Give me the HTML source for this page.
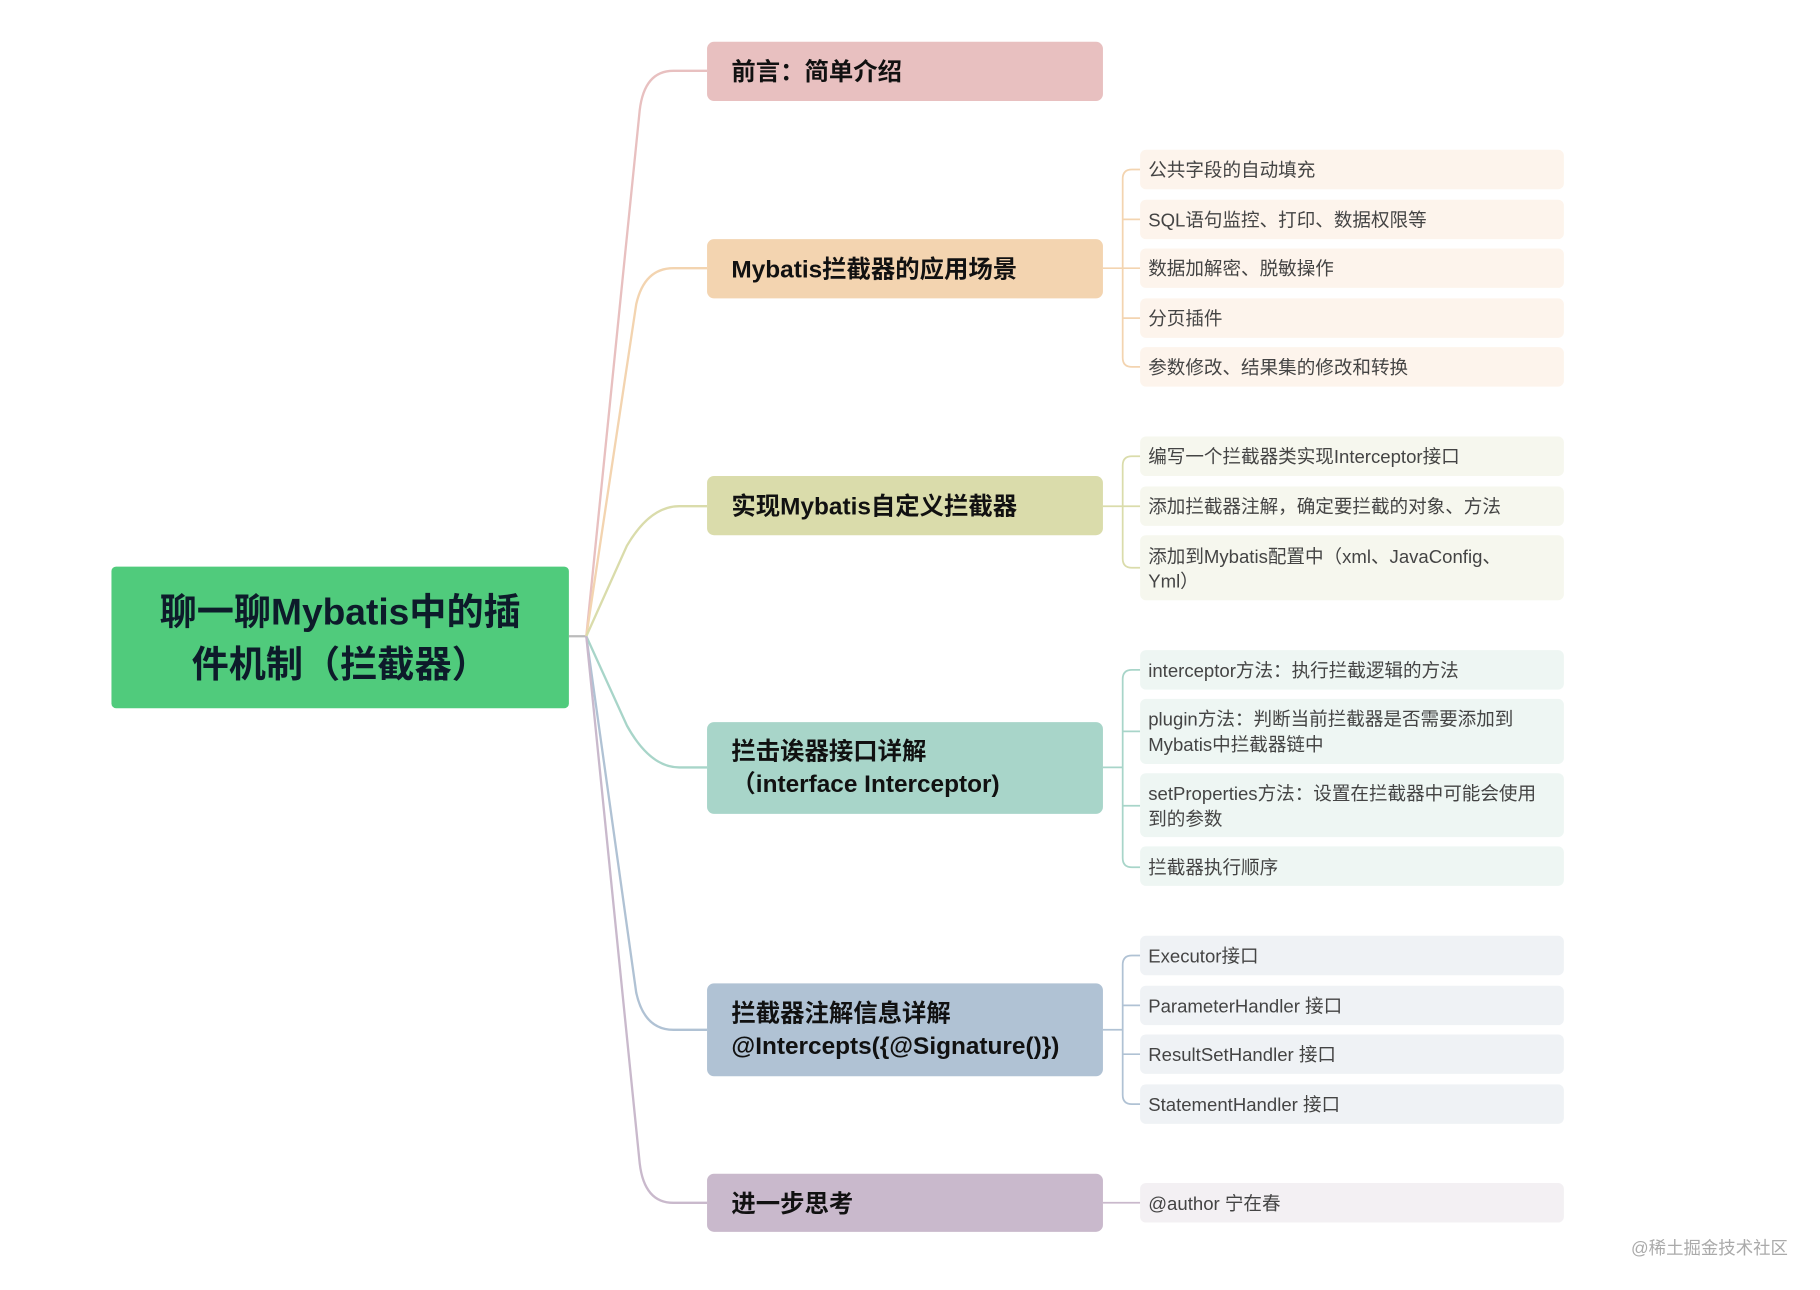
<!DOCTYPE html>
<html><head><meta charset="utf-8"><style>
html,body{margin:0;padding:0;background:#fff;}
svg{display:block;}
text{font-family:"Liberation Sans","Noto Sans CJK SC",sans-serif;}
.b{font-size:21px;font-weight:bold;fill:#111;}
.l{font-size:16px;fill:#444;}
</style></head><body>
<svg width="1820" height="1290" viewBox="0 0 1820 1290">
<g transform="scale(1.161)">
<g fill="none" stroke-width="2">
<path d="M490,548 L505,548" stroke="#bbb"/>
<path d="M505,548 L551,95 Q555,61 580,61 L609,61" stroke="#e8c0c0"/>
<path d="M505,548 L548,262 Q555,231 580,231 L609,231" stroke="#f3d4b0"/>
<path d="M505,548 L540,470 Q560,436 585,436 L609,436" stroke="#dadcab"/>
<path d="M505,548 L540,625 Q560,661 585,661 L609,661" stroke="#a8d5c9"/>
<path d="M505,548 L548,855 Q555,887 580,887 L609,887" stroke="#b0c2d4"/>
<path d="M505,548 L551,1002 Q555,1036 580,1036 L609,1036" stroke="#c9b9cc"/>
</g>
<rect x="96" y="488" width="394" height="122" rx="4" fill="#50cb7c"/>
<text x="293" y="538" text-anchor="middle" style="font-size:32px;font-weight:bold;fill:#0d1b2a">聊一聊Mybatis中的插</text>
<text x="293" y="583" text-anchor="middle" style="font-size:32px;font-weight:bold;fill:#0d1b2a">件机制（拦截器）</text>
<rect x="609" y="36" width="341" height="51" rx="6" fill="#e8c0c0"/>
<text class="b" x="630" y="69">前言：简单介绍</text>
<rect x="609" y="206" width="341" height="51" rx="6" fill="#f3d4b0"/>
<text class="b" x="630" y="239">Mybatis拦截器的应用场景</text>
<rect x="609" y="410" width="341" height="51" rx="6" fill="#dadcab"/>
<text class="b" x="630" y="443">实现Mybatis自定义拦截器</text>
<rect x="609" y="622" width="341" height="79" rx="6" fill="#a8d5c9"/>
<text class="b" x="630" y="654">拦击诶器接口详解</text>
<text class="b" x="630" y="682">（interface Interceptor)</text>
<rect x="609" y="847" width="341" height="80" rx="6" fill="#b0c2d4"/>
<text class="b" x="630" y="880">拦截器注解信息详解</text>
<text class="b" x="630" y="908">@Intercepts({@Signature()})</text>
<rect x="609" y="1011" width="341" height="50" rx="6" fill="#c9b9cc"/>
<text class="b" x="630" y="1044">进一步思考</text>
<g fill="none" stroke-width="1.5">
<g stroke="#f3d4b0">
<path d="M950,231 L967,231"/>
<path d="M982,146 L975,146 Q967,146 967,154 L967,308 Q967,316 975,316 L982,316"/>
<path d="M967,189 L982,189 M967,231 L982,231 M967,274 L982,274"/>
</g>
<g stroke="#dadcab">
<path d="M950,436 L967,436"/>
<path d="M982,393 L975,393 Q967,393 967,401 L967,481 Q967,489 975,489 L982,489"/>
<path d="M967,436 L982,436"/>
</g>
<g stroke="#a8d5c9">
<path d="M950,661 L967,661"/>
<path d="M982,577 L975,577 Q967,577 967,585 L967,739 Q967,747 975,747 L982,747"/>
<path d="M967,630 L982,630 M967,694 L982,694"/>
</g>
<g stroke="#b0c2d4">
<path d="M950,887 L967,887"/>
<path d="M982,823 L975,823 Q967,823 967,831 L967,943 Q967,951 975,951 L982,951"/>
<path d="M967,866 L982,866 M967,908 L982,908"/>
</g>
<g stroke="#c9b9cc"><path d="M950,1036 L982,1036"/></g>
</g>
<g fill="#fdf4ec">
<rect x="982" y="129" width="365" height="34" rx="5"/>
<rect x="982" y="172" width="365" height="34" rx="5"/>
<rect x="982" y="214" width="365" height="34" rx="5"/>
<rect x="982" y="257" width="365" height="34" rx="5"/>
<rect x="982" y="299" width="365" height="34" rx="5"/>
</g>
<text class="l" x="989" y="152">公共字段的自动填充</text>
<text class="l" x="989" y="195">SQL语句监控、打印、数据权限等</text>
<text class="l" x="989" y="237">数据加解密、脱敏操作</text>
<text class="l" x="989" y="280">分页插件</text>
<text class="l" x="989" y="322">参数修改、结果集的修改和转换</text>
<g fill="#f6f7ee">
<rect x="982" y="376" width="365" height="34" rx="5"/>
<rect x="982" y="419" width="365" height="34" rx="5"/>
<rect x="982" y="461" width="365" height="56" rx="5"/>
</g>
<text class="l" x="989" y="399">编写一个拦截器类实现Interceptor接口</text>
<text class="l" x="989" y="442">添加拦截器注解，确定要拦截的对象、方法</text>
<text class="l" x="989" y="485">添加到Mybatis配置中（xml、JavaConfig、</text>
<text class="l" x="989" y="506">Yml）</text>
<g fill="#eef6f3">
<rect x="982" y="560" width="365" height="34" rx="5"/>
<rect x="982" y="602" width="365" height="56" rx="5"/>
<rect x="982" y="666" width="365" height="55" rx="5"/>
<rect x="982" y="729" width="365" height="34" rx="5"/>
</g>
<text class="l" x="989" y="583">interceptor方法：执行拦截逻辑的方法</text>
<text class="l" x="989" y="625">plugin方法：判断当前拦截器是否需要添加到</text>
<text class="l" x="989" y="647">Mybatis中拦截器链中</text>
<text class="l" x="989" y="689">setProperties方法：设置在拦截器中可能会使用</text>
<text class="l" x="989" y="711">到的参数</text>
<text class="l" x="989" y="753">拦截器执行顺序</text>
<g fill="#eff2f5">
<rect x="982" y="806" width="365" height="34" rx="5"/>
<rect x="982" y="849" width="365" height="34" rx="5"/>
<rect x="982" y="891" width="365" height="34" rx="5"/>
<rect x="982" y="934" width="365" height="34" rx="5"/>
</g>
<text class="l" x="989" y="829">Executor接口</text>
<text class="l" x="989" y="872">ParameterHandler 接口</text>
<text class="l" x="989" y="914">ResultSetHandler 接口</text>
<text class="l" x="989" y="957">StatementHandler 接口</text>
<rect x="982" y="1019" width="365" height="34" rx="5" fill="#f3f0f3"/>
<text class="l" x="989" y="1042">@author 宁在春</text>
<text x="1540" y="1080" text-anchor="end" style="font-size:15px;fill:#aaa">@稀土掘金技术社区</text>
</g>
</svg>
</body></html>
